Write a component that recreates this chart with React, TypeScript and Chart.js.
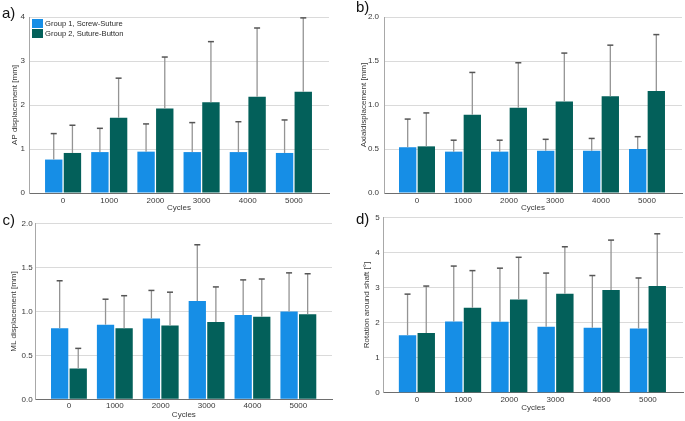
import React, { useEffect, useRef } from "react";
import { Chart, registerables } from "chart.js";

Chart.register(...registerables);

// ---------- data ----------
const cycles = ["0", "1000", "2000", "3000", "4000", "5000"];
const group1Label = "Group 1, Screw-Suture";
const group2Label = "Group 2, Suture-Button";

// a) AP displacement [mm] : mean and mean+SD
const apG1 = [0.76, 0.93, 0.94, 0.93, 0.93, 0.91];
const apG1Top = [1.35, 1.47, 1.57, 1.6, 1.62, 1.66];
const apG2 = [0.91, 1.71, 1.92, 2.06, 2.19, 2.3];
const apG2Top = [1.54, 2.61, 3.09, 3.44, 3.75, 3.98];

// b) Axial displacement [mm]
const axG1 = [0.52, 0.47, 0.47, 0.48, 0.48, 0.5];
const axG1Top = [0.84, 0.6, 0.6, 0.61, 0.62, 0.64];
const axG2 = [0.53, 0.89, 0.97, 1.04, 1.1, 1.16];
const axG2Top = [0.91, 1.37, 1.48, 1.59, 1.68, 1.8];

// c) ML displacement [mm]
const mlG1 = [0.81, 0.85, 0.92, 1.12, 0.96, 1.0];
const mlG1Top = [1.35, 1.14, 1.24, 1.76, 1.36, 1.44];
const mlG2 = [0.35, 0.81, 0.84, 0.88, 0.94, 0.97];
const mlG2Top = [0.58, 1.18, 1.22, 1.28, 1.37, 1.43];

// d) Rotation around shaft [°]
const rotG1 = [1.64, 2.03, 2.02, 1.88, 1.85, 1.83];
const rotG1Top = [2.81, 3.61, 3.55, 3.41, 3.34, 3.27];
const rotG2 = [1.7, 2.42, 2.66, 2.82, 2.93, 3.04];
const rotG2Top = [3.04, 3.48, 3.86, 4.16, 4.35, 4.53];

const yTicksAP = { max: 4, step: 1, decimals: 0 };
const yTicksAxial = { max: 2, step: 0.5, decimals: 1 };
const yTicksML = { max: 2, step: 0.5, decimals: 1 };
const yTicksRot = { max: 5, step: 1, decimals: 0 };

// ---------- styles ----------
const FONT = "'Liberation Sans', Arial, sans-serif";
const C1 = "#168ee6";
const C2 = "#03605a";
const TEXT = "#383838";

const errorBarPlugin = {
  id: "errorBars",
  afterDatasetsDraw(chart: any) {
    const ctx = chart.ctx;
    const ys = chart.scales.y;
    chart.data.datasets.forEach((ds: any, i: number) => {
      const meta = chart.getDatasetMeta(i);
      meta.data.forEach((bar: any, j: number) => {
        const x = bar.x;
        const y0 = bar.y;
        const y1 = ys.getPixelForValue(ds.errTop[j]);
        ctx.save();
        ctx.strokeStyle = "#949494";
        ctx.lineWidth = 1.3;
        ctx.beginPath();
        ctx.moveTo(x, y0);
        ctx.lineTo(x, y1);
        ctx.stroke();
        ctx.strokeStyle = "#555";
        ctx.lineWidth = 1.5;
        ctx.beginPath();
        ctx.moveTo(x - 3, y1);
        ctx.lineTo(x + 3, y1);
        ctx.stroke();
        ctx.restore();
      });
    });
  },
};

type Spec = {
  canvas: { left: number; top: number; w: number; h: number };
  plot: { left: number; top: number; right: number; bottom: number };
  g1: number[];
  g1Top: number[];
  g2: number[];
  g2Top: number[];
  yt: { max: number; step: number; decimals: number };
  yTitle: string;
  yTitlePad: number;
  yTickPad: number;
  xTickPad: number;
  xTitlePad: number;
  catPadL: number;
  catPadR: number;
};

const specs: Spec[] = [
  {
    canvas: { left: 0, top: 0, w: 340, h: 214 },
    plot: { left: 29, top: 17, right: 329, bottom: 193 },
    g1: apG1, g1Top: apG1Top, g2: apG2, g2Top: apG2Top,
    yt: yTicksAP, yTitle: "AP displacement [mm]",
    yTitlePad: 10, yTickPad: 4, xTickPad: 3.2, xTitlePad: 1.2, catPadL: 11, catPadR: 12,
  },
  {
    canvas: { left: 340, top: 0, w: 345, h: 214 },
    plot: { left: 384, top: 17, right: 682, bottom: 193 },
    g1: axG1, g1Top: axG1Top, g2: axG2, g2Top: axG2Top,
    yt: yTicksAxial, yTitle: "Axialdisplacement [mm]",
    yTitlePad: 18.5, yTickPad: 5, xTickPad: 3.2, xTitlePad: 1.2, catPadL: 10, catPadR: 12,
  },
  {
    canvas: { left: 0, top: 210, w: 340, h: 211 },
    plot: { left: 35.7, top: 223.7, right: 332, bottom: 399.3 },
    g1: mlG1, g1Top: mlG1Top, g2: mlG2, g2Top: mlG2Top,
    yt: yTicksML, yTitle: "ML displacement [mm]",
    yTitlePad: 8.5, yTickPad: 3, xTickPad: 1.9, xTitlePad: 1.2, catPadL: 10.3, catPadR: 10.7,
  },
  {
    canvas: { left: 340, top: 210, w: 345, h: 211 },
    plot: { left: 383.3, top: 217.3, right: 683, bottom: 392.7 },
    g1: rotG1, g1Top: rotG1Top, g2: rotG2, g2Top: rotG2Top,
    yt: yTicksRot, yTitle: "Rotation around shaft [°]",
    yTitlePad: 21.9, yTickPad: 3.5, xTickPad: 1.8, xTitlePad: 8.5, catPadL: 10.5, catPadR: 12,
  },
];

function Panel({ spec }: { spec: Spec }) {
  const ref = useRef<HTMLCanvasElement>(null);
  useEffect(() => {
    const { canvas, plot } = spec;
    const yWidth = plot.left - canvas.left;
    const xHeight = canvas.top + canvas.h - plot.bottom;
    const catPad = {
      id: "catPad",
      afterLayout(chart: any) {
        const xs = chart.scales.x;
        xs._startPixel = xs.left + spec.catPadL;
        xs._endPixel = xs.right - spec.catPadR;
        xs._length = xs._endPixel - xs._startPixel;
      },
    };
    const chart = new Chart(ref.current as HTMLCanvasElement, {
      type: "bar",
      data: {
        labels: cycles,
        datasets: [
          {
            label: group1Label,
            data: spec.g1,
            errTop: spec.g1Top,
            backgroundColor: C1,
            categoryPercentage: 0.81,
            barPercentage: 0.93,
          } as any,
          {
            label: group2Label,
            data: spec.g2,
            errTop: spec.g2Top,
            backgroundColor: C2,
            categoryPercentage: 0.81,
            barPercentage: 0.93,
          } as any,
        ],
      },
      options: {
        responsive: false,
        animation: false,
        devicePixelRatio: 1,
        layout: {
          padding: {
            left: 0,
            top: plot.top - canvas.top,
            right: canvas.left + canvas.w - plot.right,
            bottom: 0,
          },
        },
        plugins: {
          legend: { display: false },
          tooltip: { enabled: false },
        },
        scales: {
          x: {
            grid: { display: false, drawTicks: false },
            border: { color: "#6e6e6e", width: 1 },
            ticks: {
              padding: spec.xTickPad,
              color: TEXT,
              font: { family: FONT, size: 8 },
              maxRotation: 0,
            },
            title: {
              display: true,
              text: "Cycles",
              color: TEXT,
              font: { family: FONT, size: 8 },
              padding: { top: 0, bottom: spec.xTitlePad },
            },
            afterFit: (s: any) => {
              s.height = xHeight;
              s.paddingLeft = 0;
              s.paddingRight = 0;
            },
          },
          y: {
            min: 0,
            max: spec.yt.max,
            grid: { color: "#dadada", lineWidth: 1, drawTicks: false },
            border: { color: "#a8a8a8", width: 1 },
            ticks: {
              stepSize: spec.yt.step,
              padding: spec.yTickPad,
              color: TEXT,
              font: { family: FONT, size: 8 },
              callback: (v: any) => Number(v).toFixed(spec.yt.decimals),
            },
            title: {
              display: true,
              text: spec.yTitle,
              color: TEXT,
              font: { family: FONT, size: 8 },
              padding: { top: spec.yTitlePad, bottom: 0 },
            },
            afterFit: (s: any) => {
              s.width = yWidth;
              s.paddingTop = 0;
              s.paddingBottom = 0;
            },
          },
        },
      } as any,
      plugins: [catPad, errorBarPlugin],
    });
    return () => chart.destroy();
  }, [spec]);
  return (
    <canvas
      ref={ref}
      width={spec.canvas.w}
      height={spec.canvas.h}
      style={{
        position: "absolute",
        left: spec.canvas.left,
        top: spec.canvas.top,
        width: spec.canvas.w,
        height: spec.canvas.h,
      }}
    />
  );
}

const panelLetters = [
  { text: "a)", left: 2, top: 4.8 },
  { text: "b)", left: 356, top: -0.7 },
  { text: "c)", left: 2.5, top: 211.6 },
  { text: "d)", left: 356, top: 210.6 },
];

export default function App() {
  return (
    <div
      style={{
        position: "absolute",
        left: 0,
        top: 0,
        width: 685,
        height: 421,
        background: "#fff",
        overflow: "hidden",
        fontFamily: FONT,
      }}
    >
      {specs.map((s, i) => (
        <Panel key={i} spec={s} />
      ))}
      {panelLetters.map((p, i) => (
        <div
          key={"l" + i}
          style={{
            position: "absolute",
            left: p.left,
            top: p.top,
            fontSize: 15,
            lineHeight: "15px",
            color: "#111",
            whiteSpace: "nowrap",
          }}
        >
          {p.text}
        </div>
      ))}
      {[
        { label: group1Label, color: C1, top: 19 },
        { label: group2Label, color: C2, top: 29.3 },
      ].map((l, i) => (
        <div key={"lg" + i}>
          <div
            style={{
              position: "absolute",
              left: 32,
              top: l.top,
              width: 11,
              height: 9,
              background: l.color,
            }}
          />
          <div
            style={{
              position: "absolute",
              left: 45,
              top: l.top,
              height: 9,
              lineHeight: "9px",
              fontSize: 7.6,
              color: "#2a2a2a",
              whiteSpace: "nowrap",
            }}
          >
            {l.label}
          </div>
        </div>
      ))}
    </div>
  );
}
